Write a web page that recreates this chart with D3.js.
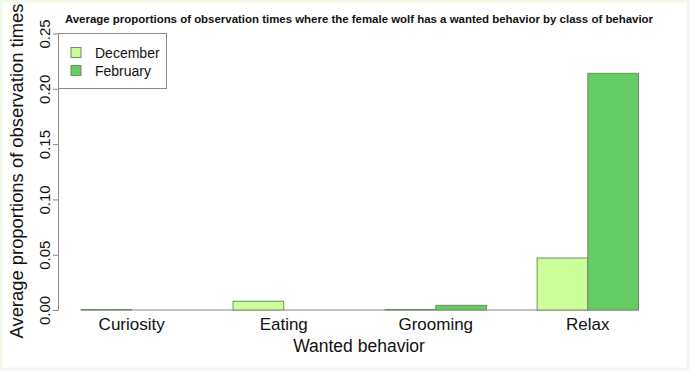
<!DOCTYPE html>
<html>
<head>
<meta charset="utf-8">
<script src="https://cdn.jsdelivr.net/npm/d3@7.9.0/dist/d3.min.js"></script>
<style>
  html, body { margin: 0; padding: 0; background: #fff; }
  svg { display: block; font-family: Arial, "Liberation Sans", sans-serif; }
</style>
</head>
<body>
<svg id="chart" width="690" height="372"></svg>
<script>
// data
var categories = ['Curiosity', 'Eating', 'Grooming', 'Relax']
var series = ['December', 'February']
var december = [0.0005, 0.0079, 0.0005, 0.047]
var february = [0, 0, 0.0042, 0.214]
var yTicks = [0, 0.05, 0.1, 0.15, 0.2, 0.25]

var COLORS = { December: '#ccff99', February: '#66cc66' }

var svg = d3.select('#chart')
var W = 690, H = 372

// light green frame round the picture
svg.append('rect')
    .attr('x', 1).attr('y', 1)
    .attr('width', W - 3).attr('height', H - 4)
    .attr('fill', '#fff')
    .attr('stroke', '#f0f8e6')
    .attr('stroke-width', 3)

var x = d3.scaleBand().domain(categories).range([81, 638.5]).paddingInner(1 / 3).paddingOuter(0)
var xs = d3.scaleBand().domain(series).range([0, x.bandwidth()]).padding(0)
var y = d3.scaleLinear().domain([0, 0.25]).range([310, 33.5])

var rows = categories.map(function (c, i) {
    return { cat: c, values: [{ s: 'December', v: december[i] }, { s: 'February', v: february[i] }] }
})

// baseline
svg.append('line')
    .attr('x1', x.range()[0]).attr('x2', x.range()[1])
    .attr('y1', y(0)).attr('y2', y(0))
    .attr('stroke', '#b0b0b0').attr('stroke-width', 1.5)

var g = svg.append('g')
    .selectAll('g')
    .data(rows)
    .join('g')
    .attr('transform', function (d) { return 'translate(' + x(d.cat) + ',0)' })

g.selectAll('rect')
    .data(function (d) { return d.values.filter(function (e) { return e.v > 0 }) })
    .join('rect')
    .attr('x', function (d) { return xs(d.s) })
    .attr('y', function (d) { return y(d.v) })
    .attr('width', xs.bandwidth())
    .attr('height', function (d) { return Math.max(0.5, y(0) - y(d.v)) })
    .attr('fill', function (d) { return COLORS[d.s] })
    .attr('stroke', '#6f8f62')
    .attr('stroke-width', 1)

// y axis
var ya = svg.append('g')
    .attr('transform', 'translate(58,0)')
    .call(d3.axisLeft(y).tickValues(yTicks).tickSize(5).tickSizeOuter(0).tickFormat(d3.format('.2f')))
ya.select('.domain').attr('stroke', '#8a8a8a')
ya.selectAll('.tick line').attr('stroke', '#8a8a8a')
ya.selectAll('.tick text')
    .attr('x', 0).attr('y', -8).attr('dy', 0)
    .attr('transform', 'rotate(-90)')
    .attr('text-anchor', 'middle')
    .attr('font-size', 15)
    .attr('font-family', 'Arial, "Liberation Sans", sans-serif')
    .attr('fill', '#111')

// category labels
svg.append('g')
    .selectAll('text')
    .data(categories)
    .join('text')
    .attr('x', function (d) { return x(d) + x.bandwidth() / 2 })
    .attr('y', 330)
    .attr('text-anchor', 'middle')
    .attr('font-size', 17)
    .attr('fill', '#111')
    .text(function (d) { return d })

svg.append('text')
    .attr('x', 359).attr('y', 352)
    .attr('text-anchor', 'middle')
    .attr('font-size', 17.5)
    .attr('fill', '#111')
    .text('Wanted behavior')

svg.append('text')
    .attr('transform', 'translate(23,171) rotate(-90)')
    .attr('text-anchor', 'middle')
    .attr('font-size', 18.4)
    .attr('fill', '#111')
    .text('Average proportions of observation times')

svg.append('text')
    .attr('x', 359).attr('y', 23)
    .attr('text-anchor', 'middle')
    .attr('font-size', 11.45)
    .attr('font-weight', 'bold')
    .attr('fill', '#111')
    .text('Average proportions of observation times where the female wolf has a wanted behavior by class of behavior')

// legend
var leg = svg.append('g')
leg.append('rect')
    .attr('x', 58.5).attr('y', 33.5)
    .attr('width', 108).attr('height', 55)
    .attr('fill', '#fff')
    .attr('stroke', '#8a8a8a')
var li = leg.selectAll('g.item')
    .data(series)
    .join('g')
    .attr('class', 'item')
    .attr('transform', function (d, i) { return 'translate(0,' + (i * 18) + ')' })
li.append('rect')
    .attr('x', 71).attr('y', 47.5)
    .attr('width', 10).attr('height', 10)
    .attr('fill', function (d) { return COLORS[d] })
    .attr('stroke', '#6f8f62')
li.append('text')
    .attr('x', 95).attr('y', 58)
    .attr('font-size', 14)
    .attr('fill', '#111')
    .text(function (d) { return d })
</script>
</body>
</html>
